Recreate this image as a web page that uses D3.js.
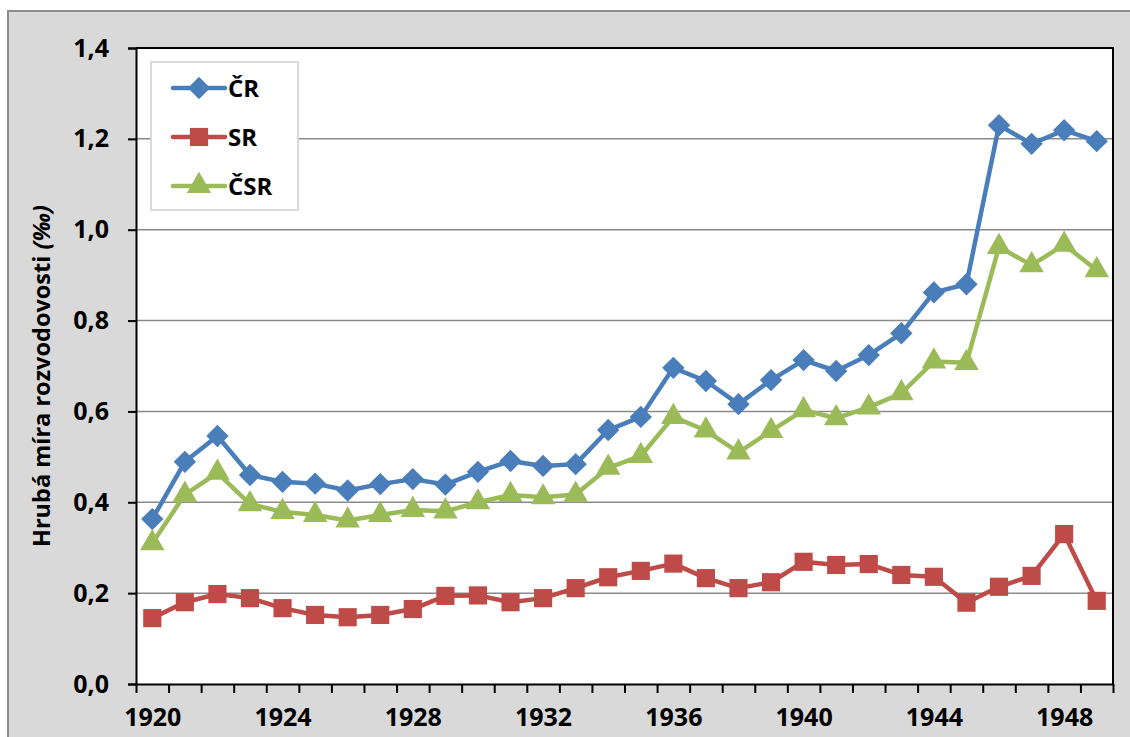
<!DOCTYPE html>
<html>
<head>
<meta charset="utf-8">
<script src="https://cdn.jsdelivr.net/npm/d3@7"></script>
<style>
  body { margin: 0; background: #fff; }
  svg { display: block; font-family: "Open Sans", Lato, sans-serif; font-weight: bold; }
</style>
</head>
<body>
<div id="root"></div>
<script>
// values, per mille
const years = d3.range(1920, 1950);
const cr = [0.363, 0.489, 0.546, 0.460, 0.445, 0.441, 0.426, 0.440, 0.451, 0.439,
            0.467, 0.491, 0.480, 0.484, 0.559, 0.588, 0.696, 0.667, 0.616, 0.669,
            0.713, 0.689, 0.724, 0.772, 0.862, 0.880, 1.230, 1.189, 1.219, 1.195];
const sr = [0.145, 0.180, 0.198, 0.189, 0.167, 0.152, 0.147, 0.152, 0.165, 0.194,
            0.195, 0.180, 0.189, 0.211, 0.235, 0.249, 0.265, 0.233, 0.211, 0.224,
            0.269, 0.262, 0.264, 0.240, 0.236, 0.179, 0.214, 0.238, 0.330, 0.183];
const csr = [0.310, 0.417, 0.465, 0.396, 0.379, 0.372, 0.360, 0.372, 0.383, 0.380,
             0.400, 0.416, 0.411, 0.417, 0.476, 0.502, 0.588, 0.558, 0.510, 0.557,
             0.603, 0.585, 0.609, 0.640, 0.710, 0.707, 0.962, 0.922, 0.967, 0.911];
const yTicks = [0, 0.2, 0.4, 0.6, 0.8, 1.0, 1.2, 1.4];
const labelYears = [1920, 1924, 1928, 1932, 1936, 1940, 1944, 1948];

// diamond = square turned by 45 degrees, like the spreadsheet marker
const series = [
  { name: "ČR", values: cr, color: "#4a7ebb", symbol: d3.symbolSquare, size: 250, rotate: 45 },
  { name: "SR", values: sr, color: "#be4b48", symbol: d3.symbolSquare, size: 330, rotate: 0 },
  { name: "ČSR", values: csr, color: "#9bbb59", symbol: d3.symbolTriangle, size: 260, rotate: 0 }
];

const width = 1130, height = 737;
const plot = { left: 136, right: 1113, top: 48, bottom: 684 };
const fontFamily = '"Open Sans", Lato, sans-serif';
const fontSize = 25;

const svg = d3.select("#root").append("svg")
    .attr("width", width)
    .attr("height", height);

// outer chart frame
svg.append("rect")
    .attr("x", 8).attr("y", 11)
    .attr("width", width + 20).attr("height", height + 20)
    .attr("fill", "#d9d9d9")
    .attr("stroke", "#8c8c8c")
    .attr("stroke-width", 2);

const x = d3.scaleLinear()
    .domain([years[0] - 0.5, years[years.length - 1] + 0.5])
    .range([plot.left, plot.right]);

const y = d3.scaleLinear()
    .domain([0, 1.4])
    .range([plot.bottom, plot.top]);

svg.append("rect")
    .attr("x", plot.left).attr("y", plot.top)
    .attr("width", plot.right - plot.left).attr("height", plot.bottom - plot.top)
    .attr("fill", "#fff");

// gridlines
svg.append("g")
    .selectAll("line")
    .data(yTicks.filter(d => d > 0 && d < 1.4))
    .enter()
    .append("line")
        .attr("x1", plot.left).attr("x2", plot.right)
        .attr("y1", d => y(d)).attr("y2", d => y(d))
        .attr("stroke", "#8a8a8a")
        .attr("stroke-width", 1.5);

// plot border (top and right)
svg.append("path")
    .attr("d", `M${plot.left},${plot.top}H${plot.right}V${plot.bottom}`)
    .attr("fill", "none")
    .attr("stroke", "#000")
    .attr("stroke-width", 2);

// y axis
const yAxis = d3.axisLeft(y)
    .tickValues(yTicks)
    .tickSize(8)
    .tickPadding(19)
    .tickFormat(d => d3.format(".1f")(d).replace(".", ","));

const gy = svg.append("g")
    .attr("transform", `translate(${plot.left},0)`)
    .call(yAxis);
gy.select(".domain").attr("stroke-width", 2);
gy.selectAll(".tick line").attr("stroke-width", 2);
gy.selectAll(".tick text")
    .attr("font-size", fontSize)
    .attr("font-weight", "bold")
    .attr("font-family", fontFamily)
    .attr("fill", "#000");

// x axis: ticks on category borders, labels every fourth year
const xTicks = d3.range(years.length + 1).map(i => years[0] - 0.5 + i);
const gx = svg.append("g")
    .attr("transform", `translate(0,${plot.bottom})`)
    .call(d3.axisBottom(x).tickValues(xTicks).tickFormat("").tickSizeInner(9).tickSizeOuter(0));
gx.select(".domain").attr("stroke-width", 2);
gx.selectAll(".tick line").attr("stroke-width", 2);

const gxl = svg.append("g")
    .attr("transform", `translate(0,${plot.bottom})`)
    .call(d3.axisBottom(x).tickValues(labelYears).tickFormat(d3.format("d")).tickSize(0).tickPadding(24));
gxl.select(".domain").remove();
gxl.selectAll(".tick text")
    .attr("font-size", fontSize)
    .attr("font-weight", "bold")
    .attr("font-family", fontFamily)
    .attr("fill", "#000");

// y axis title
const title = svg.append("text")
    .attr("transform", `translate(50, ${(plot.top + plot.bottom) / 2 + 10}) rotate(-90)`)
    .attr("text-anchor", "middle")
    .attr("font-size", 23.5)
    .attr("fill", "#000");
title.append("tspan").text("Hrubá míra rozvodovosti ");
title.append("tspan").attr("font-style", "italic").text("(‰)");

// lines and markers
const line = d3.line()
    .x((d, i) => x(years[i]))
    .y(d => y(d));

series.forEach(s => {
    svg.append("path")
        .datum(s.values)
        .attr("d", line)
        .attr("fill", "none")
        .attr("stroke", s.color)
        .attr("stroke-width", 4.5)
        .attr("stroke-linejoin", "round");

    svg.append("g")
        .selectAll("path")
        .data(s.values)
        .enter()
        .append("path")
            .attr("transform", (d, i) => `translate(${x(years[i])},${y(d)}) rotate(${s.rotate})`)
            .attr("d", d3.symbol().type(s.symbol).size(s.size))
            .attr("fill", s.color);
});

// legend
const legend = svg.append("g")
    .attr("transform", "translate(151,62)");

legend.append("rect")
    .attr("width", 147)
    .attr("height", 148)
    .attr("fill", "#fff")
    .attr("stroke", "#d9d9d9")
    .attr("stroke-width", 2);

const item = legend.selectAll("g.item")
    .data(series)
    .enter()
    .append("g")
        .attr("class", "item")
        .attr("transform", (d, i) => `translate(0,${26 + i * 49})`);

item.append("line")
    .attr("x1", 22).attr("x2", 74)
    .attr("stroke", d => d.color)
    .attr("stroke-width", 4.5)
    .attr("stroke-linecap", "round");

item.append("path")
    .attr("transform", d => `translate(48,0) rotate(${d.rotate})`)
    .attr("d", d => d3.symbol().type(d.symbol).size(d.size)())
    .attr("fill", d => d.color);

item.append("text")
    .attr("x", 77)
    .attr("dy", "0.36em")
    .attr("font-size", 24)
    .attr("font-family", fontFamily)
    .attr("fill", "#000")
    .text(d => d.name);
</script>
</body>
</html>
